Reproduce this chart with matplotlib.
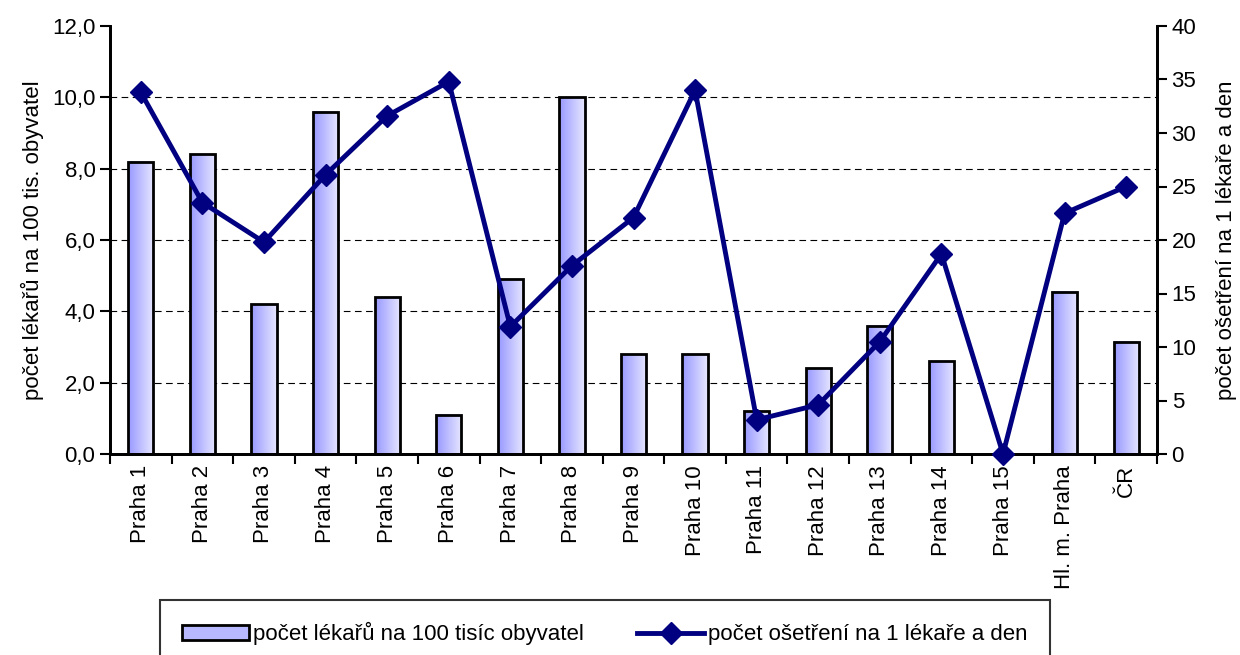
import matplotlib.pyplot as plt
import numpy as np
from matplotlib.ticker import FuncFormatter, FixedLocator
from matplotlib.patches import Rectangle
from matplotlib.lines import Line2D
from matplotlib.colors import LinearSegmentedColormap

plt.rcParams['font.family'] = ['Liberation Sans Narrow', 'Liberation Sans', 'DejaVu Sans']

kategorie = ["Praha 1", "Praha 2", "Praha 3", "Praha 4", "Praha 5", "Praha 6", "Praha 7",
             "Praha 8", "Praha 9", "Praha 10", "Praha 11", "Praha 12", "Praha 13",
             "Praha 14", "Praha 15", "Hl. m. Praha", "ČR"]
lekari = [8.2, 8.4, 4.2, 9.6, 4.4, 1.1, 4.9, 10.0, 2.8, 2.8, 1.2, 2.4, 3.6, 2.6, 0.0, 4.55, 3.15]
osetreni = [33.8, 23.5, 19.8, 26.1, 31.6, 34.8, 11.9, 17.6, 22.1, 34.0, 3.2, 4.6, 10.5,
            18.7, 0.0, 22.5, 25.0]

barva_car = "#000080"

fig = plt.figure(figsize=(12.4, 6.55), dpi=100)
ax = fig.add_axes([110/1240, 1 - 454/655, (1157-110)/1240, (454-26)/655])
ax2 = ax.twinx()

x = np.arange(len(kategorie))
sirka = 0.41
bary = ax.bar(x, lekari, width=sirka, facecolor="none", edgecolor="black", linewidth=2, zorder=3)

# gradient uvnitr sloupcu
grad = np.linspace(0, 1, 64).reshape(1, -1)
cmap = LinearSegmentedColormap.from_list("sl", ["#9999ff", "#e6e6ff"])
for b in bary:
    if b.get_height() <= 0:
        continue
    ax.imshow(grad, cmap=cmap, aspect="auto", zorder=2,
              extent=[b.get_x(), b.get_x() + b.get_width(), 0, b.get_height()])

ax.set_xlim(-0.5, len(kategorie) - 0.5)
ax.set_ylim(0, 12)
ax.set_yticks(np.arange(0, 12.1, 2))
ax.yaxis.set_major_formatter(FuncFormatter(lambda v, p: f"{v:.1f}".replace(".", ",")))
ax.set_xticks(x)
ax.set_xticklabels(kategorie, rotation=90, fontsize=16)
ax.xaxis.set_minor_locator(FixedLocator(np.arange(-0.5, len(kategorie), 1)))
ax.tick_params(axis="x", which="major", length=0, pad=8)
ax.tick_params(axis="x", which="minor", length=7, width=1.5, direction="out")
ax.tick_params(axis="y", labelsize=16, length=7, width=1.5, direction="out")
for v in [2, 4, 6, 8, 10]:
    ax.axhline(v, color="black", linestyle=(0, (6, 4)), linewidth=0.8, zorder=1)
ax.set_ylabel("počet lékařů na 100 tis. obyvatel", fontsize=16, labelpad=6)

ax2.plot(x, osetreni, color=barva_car, linewidth=3.5, marker="D", markersize=11,
         zorder=5, clip_on=False)
ax2.set_ylim(0, 40)
ax2.set_yticks(np.arange(0, 41, 5))
ax2.tick_params(axis="y", labelsize=16, length=7, width=1.5, direction="out")
ax2.set_ylabel("počet ošetření na 1 lékaře a den", fontsize=16, labelpad=14)

for a in (ax, ax2):
    a.spines["top"].set_visible(False)
    for s in ("left", "right", "bottom"):
        a.spines[s].set_linewidth(2)
ax2.patch.set_visible(False)

h1 = Rectangle((0, 0), 1, 1, facecolor="#b8b8ff", edgecolor="black", linewidth=2)
h2 = Line2D([], [], color=barva_car, linewidth=3.5, marker="D", markersize=11)
leg = fig.legend([h1, h2], ["počet lékařů na 100 tisíc obyvatel", "počet ošetření na 1 lékaře a den"],
                 loc="upper left", bbox_to_anchor=(160/1240, 1 - 600/655 - 0.1, (1050-160)/1240, 0.1),
                 mode="expand", ncol=2, fontsize=16, frameon=True, fancybox=False,
                 handlelength=3, handletextpad=0.2, borderaxespad=0, borderpad=1.0)
leg.get_frame().set_edgecolor("black")
leg.get_frame().set_linewidth(1.5)

fig.savefig("out.png", dpi=100)
